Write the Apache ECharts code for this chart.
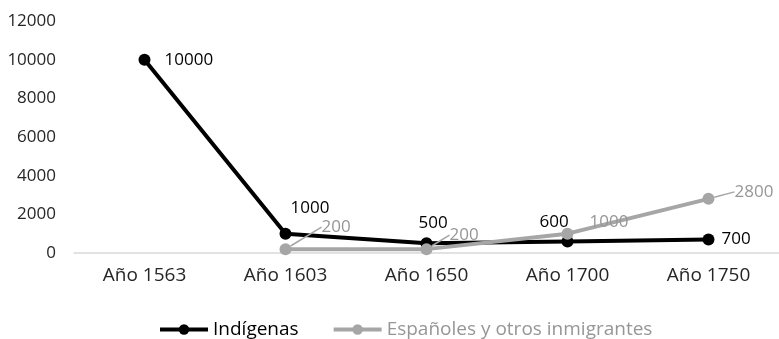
<!DOCTYPE html>
<html>
<head>
<meta charset="utf-8">
<script src="https://cdn.jsdelivr.net/npm/echarts@6/dist/echarts.min.js"></script>
<style>html,body{margin:0;padding:0;background:#fff}#c{width:779px;height:339px}</style>
</head>
<body>
<div id="c"></div>
<script>
var categories = ['Año 1563', 'Año 1603', 'Año 1650', 'Año 1700', 'Año 1750'];
var indigenas = [10000, 1000, 500, 600, 700];
var espanoles = [null, 200, 200, 1000, 2800];
var yTicks = [0, 2000, 4000, 6000, 8000, 10000, 12000];
var seriesNames = ['Indígenas', 'Españoles y otros inmigrantes'];

var FONT = '"Open Sans", sans-serif';
var BLACK = '#000000';
var GRAY = '#a6a6a6';
var GRAY_TEXT = '#969696';

// label shifts (style only)
var shifts = [
  [[9, 0], [-6, -26], [-19, -20], [-39, -19], [2, 0]],
  [[0, 0], [25, -22], [12, -14], [11, -12], [15, -7]]
];

var chart = echarts.init(document.getElementById('c'), null, {renderer: 'canvas'});
chart.setOption({
  animation: false,
  textStyle: {fontFamily: FONT},
  grid: {left: 74, top: 21, width: 712, height: 232},
  legend: {
    left: 153, top: 315,
    itemWidth: 48, itemHeight: 13, itemGap: 33,
    lineStyle: {width: 4},
    textStyle: {fontFamily: FONT, fontSize: 19},
    data: [
      {name: seriesNames[0], textStyle: {color: BLACK}},
      {name: seriesNames[1], textStyle: {color: GRAY_TEXT}}
    ]
  },
  xAxis: {
    type: 'category',
    data: categories,
    boundaryGap: true,
    axisLine: {show: true, lineStyle: {color: '#d9d9d9', width: 1.5}},
    axisTick: {show: false},
    axisLabel: {color: '#262626', fontSize: 19, fontFamily: FONT, margin: 13}
  },
  yAxis: {
    type: 'value',
    min: yTicks[0], max: yTicks[yTicks.length - 1], interval: 2000,
    axisLine: {show: false},
    axisTick: {show: false},
    splitLine: {show: false},
    axisLabel: {color: '#262626', fontSize: 17, fontFamily: FONT, margin: 18,
      formatter: function (v) { return String(v); }}
  },
  series: [
    {
      name: seriesNames[0],
      type: 'line',
      data: indigenas,
      symbol: 'circle',
      symbolSize: 12,
      lineStyle: {color: BLACK, width: 4},
      itemStyle: {color: BLACK},
      z: 3,
      label: {show: true, position: 'right', color: BLACK, fontSize: 17, fontFamily: FONT},
      labelLayout: function (p) { var s = shifts[0][p.dataIndex]; return {dx: s[0], dy: s[1]}; }
    },
    {
      name: seriesNames[1],
      type: 'line',
      data: espanoles.map(function (v, i) {
        return i === 3 ? {value: v, labelLine: {show: false}} : v;
      }),
      symbol: 'circle',
      symbolSize: 12,
      lineStyle: {color: GRAY, width: 4},
      itemStyle: {color: GRAY},
      z: 4,
      label: {show: true, position: 'right', color: GRAY_TEXT, fontSize: 17, fontFamily: FONT},
      labelLine: {show: true, lineStyle: {color: GRAY, width: 1.5}},
      labelLayout: function (p) { var s = shifts[1][p.dataIndex]; return {dx: s[0], dy: s[1]}; }
    }
  ]
});
</script>
</body>
</html>
